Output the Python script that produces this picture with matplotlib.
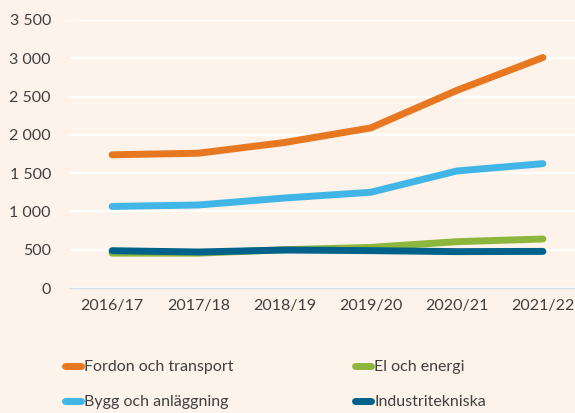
import numpy as np
import matplotlib.pyplot as plt
from matplotlib.ticker import FuncFormatter

# Data
years = ["2016/17", "2017/18", "2018/19", "2019/20", "2020/21", "2021/22"]
fordon = [1740, 1760, 1900, 2090, 2580, 3010]
bygg = [1065, 1084, 1175, 1250, 1528, 1624]
el = [455, 455, 500, 530, 605, 640]
industri = [487, 470, 496, 488, 475, 478]

labels = ["Fordon och transport", "Bygg och anläggning", "El och energi", "Industritekniska"]
colors = ["#E87722", "#41B6E6", "#8DB63C", "#00628B"]
bg = "#FDF3EA"

plt.rcParams['font.family'] = ['Lato', 'DejaVu Sans']

fig = plt.figure(figsize=(5.75, 4.13), dpi=100, facecolor=bg)
ax = fig.add_axes([69 / 575, 1 - 288 / 413, (586 - 69) / 575, (288 - 20) / 413])
ax.set_facecolor(bg)

x = np.arange(len(years))
for series, lab, col in zip([fordon, bygg, el, industri], labels, colors):
    ax.plot(x, series, color=col, lw=5, solid_capstyle='round', label=lab)

ax.set_xlim(-0.5, len(years) - 0.5)
ax.set_ylim(0, 3500)
ax.set_yticks(np.arange(0, 3501, 500))
ax.yaxis.set_major_formatter(FuncFormatter(lambda v, p: f"{int(v):,}".replace(",", " ")))
ax.set_xticks(x)
ax.set_xticklabels(years)

ax.grid(axis='y', color='white', lw=1.6)
ax.set_axisbelow(True)
for s in ['top', 'right', 'left']:
    ax.spines[s].set_visible(False)
ax.spines['bottom'].set_color('#D6DEE6')
ax.spines['bottom'].set_linewidth(1)
ax.tick_params(axis='both', length=0, labelsize=11.5, colors='#404040')
ax.tick_params(axis='y', pad=13)
ax.tick_params(axis='x', pad=8)

leg = fig.legend(loc='upper left', bbox_to_anchor=(65 / 575, 1 - 360 / 413), ncol=2,
                 frameon=False, fontsize=11.5, handlelength=1.0, handletextpad=0.2,
                 columnspacing=7.6, labelspacing=1.3, borderpad=0, borderaxespad=0)
for t in leg.get_texts():
    t.set_color('#404040')

fig.savefig("out.png", dpi=100, facecolor=bg)
